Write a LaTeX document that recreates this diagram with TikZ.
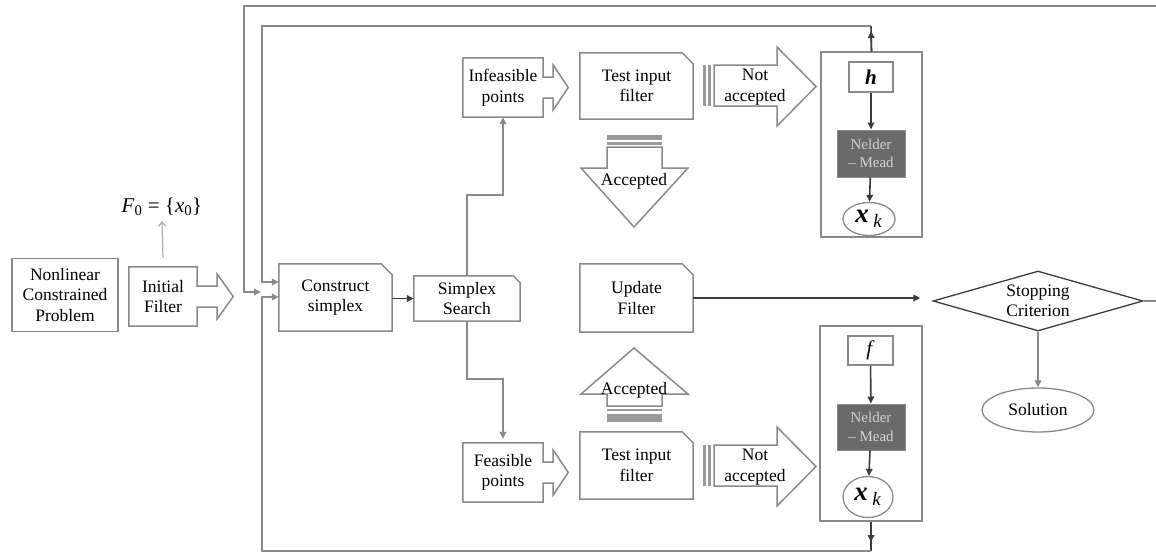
\documentclass[tikz,border=0pt]{standalone}
\usepackage{fontspec}
\setmainfont{Liberation Serif}
\usetikzlibrary{shapes.geometric,arrows.meta,calc}
\definecolor{lgray}{HTML}{8A8A8A}
\definecolor{dgray}{HTML}{3C3C3C}
\definecolor{nmfill}{HTML}{6A6A6A}
\definecolor{nmtext}{HTML}{D2D2D2}
\definecolor{stripe}{HTML}{9A9A9A}
% snipped-corner outline round a node
\newcommand\snipbox[2]{\draw[box] (#1.south west) -- (#1.north west) -- ([xshift=-#2pt]#1.north east) -- ([yshift=-#2pt]#1.north east) -- (#1.south east) -- cycle;}
% box with an arrow on its right side: name, shaft length, tip distance, shaft half height, head half height
\newcommand\calloutR[5]{\draw[box] (#1.north west) -- (#1.north east) -- ([yshift=#4pt]#1.east) -- ([xshift=#2pt,yshift=#4pt]#1.east) -- ([xshift=#2pt,yshift=#5pt]#1.east) -- ([xshift=#3pt]#1.east) -- ([xshift=#2pt,yshift=-#5pt]#1.east) -- ([xshift=#2pt,yshift=-#4pt]#1.east) -- ([yshift=-#4pt]#1.east) -- (#1.south east) -- (#1.south west) -- cycle;}
\begin{document}
\begin{tikzpicture}[x=1pt,y=-1pt,
  every node/.style={font=\fontsize{17.5}{20.5}\selectfont, align=center, inner sep=0pt},
  box/.style={draw=lgray, line width=1.5pt, line join=miter},
  gline/.style={draw=lgray, line width=1.9pt},
  garr/.style={gline, -{Triangle[length=7pt,width=6.5pt]}},
  dline/.style={draw=dgray, line width=1.6pt},
  darr/.style={dline, -{Triangle[length=7pt,width=6.5pt]}},
  lgarr/.style={draw=lgray!70, line width=1.2pt, -{Straight Barb[length=4pt,width=7pt]}},
  frame/.style={rectangle, draw=lgray, line width=1.5pt},
  small/.style={rectangle, draw=lgray, line width=1.5pt},
  nm/.style={rectangle, fill=nmfill, draw=lgray, line width=1pt, minimum width=68pt, text=nmtext, font=\fontsize{15}{18.5}\selectfont}]
\useasboundingbox (0,0) rectangle (1156,554);
\fill[white] (0,0) rectangle (1156,554);

% ---- left part
\node[rectangle, box, minimum width=106pt, minimum height=73pt] (nlp) at (65,295) {Nonlinear\\Constrained\\Problem};
\node[rectangle, minimum width=68pt, minimum height=59pt] (initf) at (163,296.5) {Initial\\Filter};
\calloutR{initf}{20}{36}{10.5}{22.5}
\node (f0) at (162,207) {\fontsize{21}{21}\selectfont\textit{F}\textsubscript{0} = \{\textit{x}\textsubscript{0}\}};
\draw[lgarr] ([yshift=9pt]initf.north) -- ([yshift=-5pt]f0.south);

% ---- construct / search
\node[rectangle, minimum width=113pt, minimum height=67pt] (construct) at (335.5,297.5) {Construct\\simplex};
\snipbox{construct}{11}
\node[rectangle, minimum width=106pt, minimum height=45pt] (search) at (467,298.5) {Simplex\\Search};
\snipbox{search}{7}
\draw[darr] (construct.east |- search.west) -- (search.west);

% ---- infeasible / feasible
\node[rectangle, minimum width=80pt, minimum height=59pt] (infeas) at (503,87.5) {Infeasible\\points};
\calloutR{infeas}{10}{25}{10.5}{22.5}
\node[rectangle, minimum width=80pt, minimum height=59pt] (feas) at (503,472.5) {Feasible\\points};
\calloutR{feas}{10}{25}{10.5}{22.5}
\draw[garr] (search.north) |- (infeas.south |- 0,195) -- (infeas.south);
\draw[garr] (search.south) |- (feas.north |- 0,379) -- ([yshift=4pt]feas.north);

% ---- test input filters and update
\node[rectangle, minimum width=113pt, minimum height=66pt] (testT) at (636.5,86) {Test input\\filter};
\snipbox{testT}{11}
\node[rectangle, minimum width=113pt, minimum height=67pt] (testB) at (636.5,465.5) {Test input\\filter};
\snipbox{testB}{11}
\node[rectangle, minimum width=113pt, minimum height=68pt] (update) at (636.5,298) {Update\\Filter};
\snipbox{update}{11}

% ---- accepted arrows
\fill[stripe] (607,135) rectangle (662,139.5);
\fill[stripe] (607,142) rectangle (662,144.5);
\draw[box] (607,147) -- (662,147) -- (662,168) -- (688,168) -- (634,227) -- (581,168) -- (607,168) -- cycle;
\node (accT) at (634,181) {Accepted};
\draw[box] (607,406) -- (607,394) -- (581,394) -- (634,348) -- (688,394) -- (662,394) -- (662,406) -- cycle;
\fill[stripe] (607,408.5) rectangle (662,411);
\fill[stripe] (607,414) rectangle (662,421.5);
\node (accB) at (634,390) {Accepted};

% ---- not accepted arrows
\fill[stripe] (703,65) rectangle (705.5,106);
\fill[stripe] (708,65) rectangle (711,106);
\draw[box] (714,65) -- (777,65) -- (777,47) -- (816,86.5) -- (777,126) -- (777,106) -- (714,106) -- cycle;
\node (notT) at (755,87) {Not\\accepted};
\fill[stripe] (703,445) rectangle (705.5,486);
\fill[stripe] (708,445) rectangle (711,486);
\draw[box] (714,445) -- (777,445) -- (777,427) -- (816,466.5) -- (777,506) -- (777,486) -- (714,486) -- cycle;
\node (notB) at (755,467) {Not\\accepted};

% ---- upper frame
\node[frame, minimum width=101pt, minimum height=185pt] (frameT) at (871.5,144.5) {};
\node[small, minimum width=44pt, minimum height=30pt] (hbox) at (871,77) {\fontsize{21}{21}\selectfont\textbf{\textit{h}}};
\node[nm, minimum height=47pt] (nmT) at (871,153.5) {Nelder\\– Mead};
\node[ellipse, draw=lgray, line width=1.3pt, minimum width=52pt, minimum height=33pt] (xkT) at (869,219) {\fontsize{27}{27}\selectfont\textbf{\textit{x}}\,\textsubscript{\textit{k}}};
\draw[darr] (hbox) -- (nmT);
\draw[darr] (nmT) -- (xkT);

% ---- lower frame
\node[frame, minimum width=102pt, minimum height=195pt] (frameB) at (871,423.5) {};
\node[small, minimum width=45pt, minimum height=29pt] (fbox) at (870.5,350.5) {\fontsize{21}{21}\selectfont\textit{f}};
\node[nm, minimum height=46pt] (nmB) at (871,427) {Nelder\\– Mead};
\node[ellipse, draw=lgray, line width=1.3pt, minimum width=50pt, minimum height=41pt] (xkB) at (868,497) {\fontsize{27}{27}\selectfont\textbf{\textit{x}}\,\textsubscript{\textit{k}}};
\draw[darr] (fbox) -- (nmB);
\draw[darr] (nmB) -- (xkB);

% ---- stopping and solution
\node[diamond, draw=dgray, line width=1.3pt, aspect=3.5, minimum width=210pt, minimum height=60pt] (stop) at (1038,301) {Stopping\\Criterion};
\node[ellipse, draw=lgray, line width=1.3pt, minimum width=112pt, minimum height=44pt] (sol) at (1038,410) {Solution};
\draw[darr] (update.east) -- ([xshift=-12pt]update.east -| stop.west);
\draw[garr] (stop.south) -- (sol.north);

% ---- feedback loops
\coordinate (tUp) at (871,26);
\coordinate (tDown) at (871,551);
\draw[dline] (frameT.north) -- (tUp);
\draw[darr] (frameT.north) -- (871,31);
\draw[garr] (tUp) -- (262,26) -- (262,282) -- (construct.west |- 0,282);
\draw[dline] (frameB.south) -- (tDown);
\draw[darr] (frameB.south) -- (871,542);
\draw[garr] (tDown) -- (262,551) -- (262,297) -- (construct.west |- 0,297);
\draw[garr] (stop.east) -- (1163,301) -- (1163,6) -- (244,6) -- (244,292) -- (261,292);
\end{tikzpicture}
\end{document}
